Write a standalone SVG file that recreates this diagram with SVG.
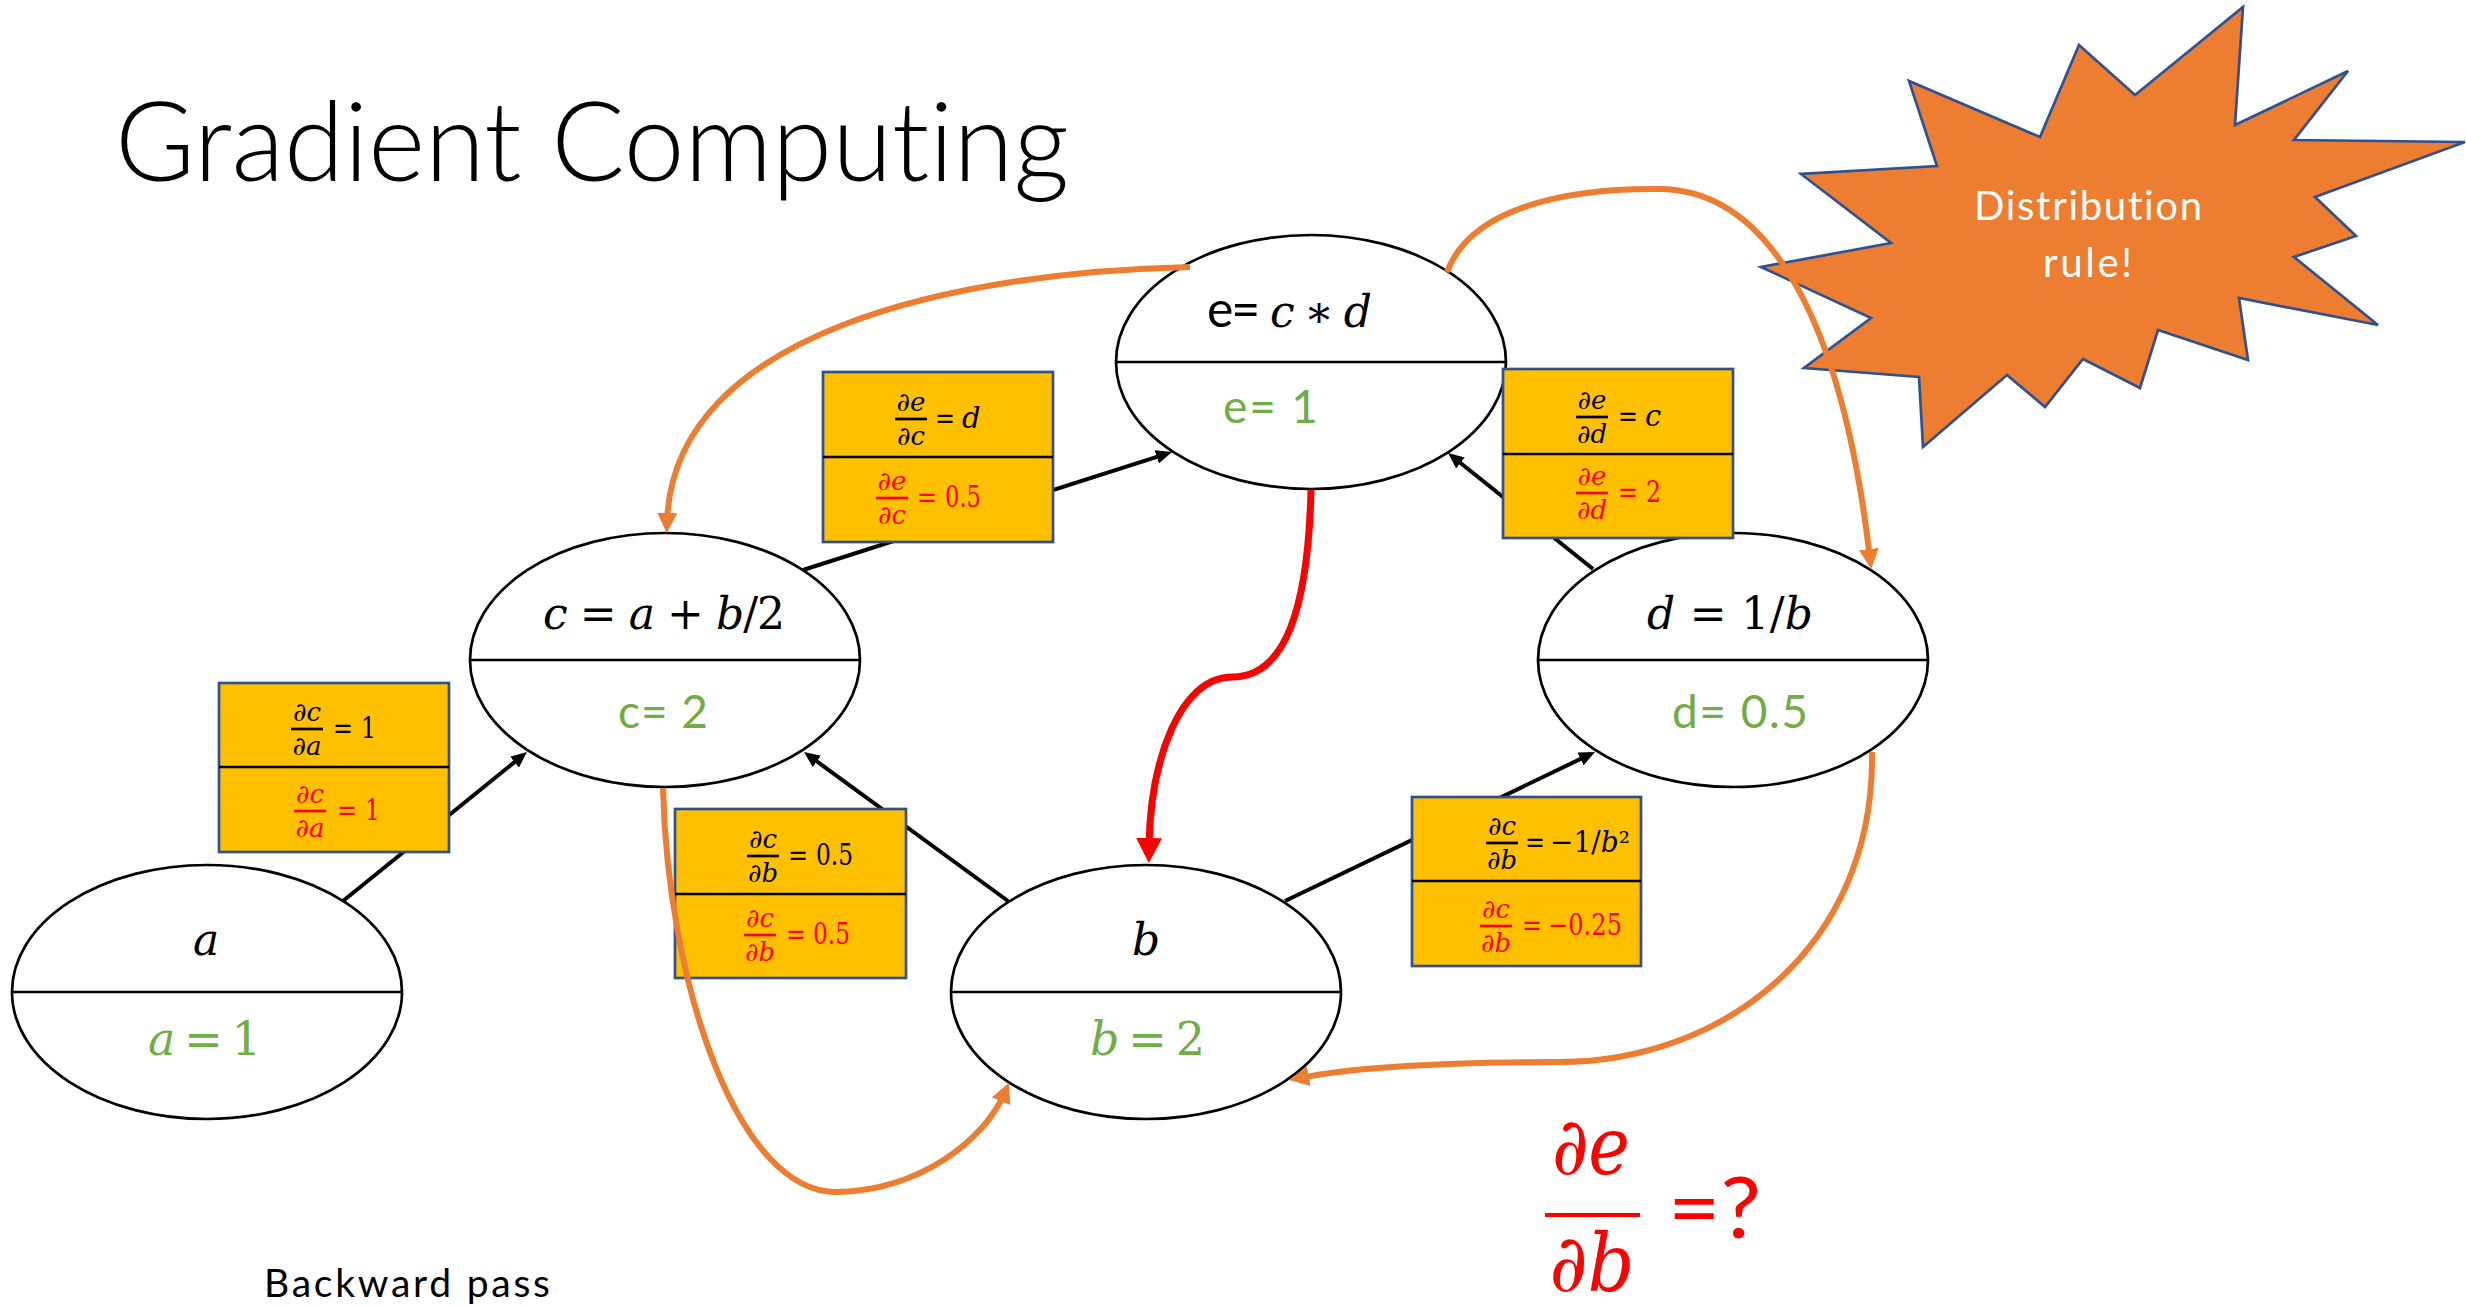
<svg xmlns="http://www.w3.org/2000/svg" width="2466" height="1307" viewBox="0 0 2466 1307">
  <style>
    .sans { font-family: Lato, "Open Sans", "Liberation Sans", sans-serif; font-variant-ligatures: none; }
    .m { font-family: "DejaVu Serif", "Liberation Serif", serif; }
    .i { font-style: italic; }
    .node { fill: #ffffff; stroke: #000000; stroke-width: 2.7; }
    .split { stroke: #000000; stroke-width: 2.7; }
    .lbl { font-size: 44px; fill: #000000; }
    .val { font-size: 46px; fill: #70AD47; }
    .box { fill: #FFC000; stroke: #2F528F; stroke-width: 2.7; }
    .fr { font-size: 26px; font-style: italic; }
    .eq { font-size: 29px; }
    .blk { fill: #000000; }
    .red { fill: #FF0000; }
    .barb { stroke: #000000; stroke-width: 2.7; }
    .barr { stroke: #FF0000; stroke-width: 2.7; }
    .edge { stroke: #000000; stroke-width: 4; fill: none; marker-end: url(#head-black); }
    .back { stroke: #ED7D31; stroke-width: 6; fill: none; marker-end: url(#head-orange); }
    .flow { stroke: #FF0000; stroke-width: 7; fill: none; marker-end: url(#head-red); }
  </style>
  <defs>
    <marker id="head-black" markerUnits="userSpaceOnUse" markerWidth="16" markerHeight="14" refX="10" refY="7" orient="auto">
      <path d="M0,0 L16,7 L0,14 z" fill="#000000"/>
    </marker>
    <marker id="head-orange" markerUnits="userSpaceOnUse" markerWidth="20" markerHeight="20" refX="10" refY="10" orient="auto">
      <path d="M0,0 L20,10 L0,20 z" fill="#ED7D31"/>
    </marker>
    <marker id="head-red" markerUnits="userSpaceOnUse" markerWidth="25" markerHeight="26" refX="10" refY="13" orient="auto">
      <path d="M0,0 L25,13 L0,26 z" fill="#FF0000"/>
    </marker>
  </defs>

  <rect x="0" y="0" width="2466" height="1307" fill="#ffffff"/>

  <!-- title -->
  <text class="sans" x="115" y="181" font-size="110" font-weight="300" textLength="954" lengthAdjust="spacingAndGlyphs" fill="#000000">Gradient Computing</text>

  <!-- forward edges -->
  <g id="connectors">
    <line class="edge" x1="343" y1="901" x2="522.3" y2="755.8"/>
    <line class="edge" x1="1008" y1="901" x2="808.8" y2="755.5"/>
    <line class="edge" x1="803" y1="570" x2="1166.3" y2="453.8"/>
    <line class="edge" x1="1593" y1="569" x2="1452.7" y2="456.7"/>
    <line class="edge" x1="1285" y1="901" x2="1589.6" y2="754.6"/>
  </g>

  <!-- nodes -->
  <g id="node-e">
    <ellipse class="node" cx="1311" cy="362" rx="195" ry="127"/>
    <line class="split" x1="1116" y1="362" x2="1506" y2="362"/>
    <text class="lbl" x="1207" y="327" textLength="165" lengthAdjust="spacing"><tspan class="sans" font-size="50">e=</tspan><tspan class="m"> </tspan><tspan class="m i">c</tspan><tspan class="m"> ∗ </tspan><tspan class="m i">d</tspan></text>
    <text class="val sans" x="1223" y="423" textLength="95" lengthAdjust="spacing">e= 1</text>
  </g>
  <g id="node-c">
    <ellipse class="node" cx="665" cy="660" rx="195" ry="127"/>
    <line class="split" x1="470" y1="660" x2="860" y2="660"/>
    <text class="lbl m" x="543" y="629" textLength="242" lengthAdjust="spacing"><tspan class="i">c</tspan> = <tspan class="i">a</tspan> + <tspan class="i">b</tspan>/2</text>
    <text class="val sans" x="618" y="728" textLength="90" lengthAdjust="spacing">c= 2</text>
  </g>
  <g id="node-d">
    <ellipse class="node" cx="1733" cy="660" rx="195" ry="127"/>
    <line class="split" x1="1538" y1="660" x2="1928" y2="660"/>
    <text class="lbl m" x="1647" y="629" textLength="166" lengthAdjust="spacing"><tspan class="i">d</tspan> = 1/<tspan class="i">b</tspan></text>
    <text class="val sans" x="1672" y="728" textLength="136" lengthAdjust="spacing">d= 0.5</text>
  </g>
  <g id="node-a">
    <ellipse class="node" cx="207" cy="992" rx="195" ry="127"/>
    <line class="split" x1="12" y1="992" x2="402" y2="992"/>
    <text class="lbl m i" x="206" y="955" text-anchor="middle">a</text>
    <text class="val m" x="148" y="1055" font-size="42" textLength="113" lengthAdjust="spacing"><tspan class="i">a</tspan> = 1</text>
  </g>
  <g id="node-b">
    <ellipse class="node" cx="1146" cy="992" rx="195" ry="127"/>
    <line class="split" x1="951" y1="992" x2="1341" y2="992"/>
    <text class="lbl m i" x="1146" y="955" text-anchor="middle">b</text>
    <text class="val m" x="1090" y="1055" font-size="42" textLength="115" lengthAdjust="spacing"><tspan class="i">b</tspan> = 2</text>
  </g>

  <!-- local and accumulated gradient labels on the edges -->
  <g id="grad-ec">
    <rect class="box" x="823" y="372" width="230" height="170"/>
    <line class="split" x1="823" y1="457" x2="1053" y2="457"/>
    <text class="m fr blk" x="911" y="411" text-anchor="middle">∂e</text>
    <line class="barb" x1="895" y1="419" x2="927" y2="419"/>
    <text class="m fr blk" x="911" y="445" text-anchor="middle">∂c</text>
    <text class="m eq blk" x="935" y="428" textLength="20" lengthAdjust="spacingAndGlyphs">=</text>
    <text class="m eq blk i" x="962" y="428">d</text>
    <text class="m fr red" x="892" y="490" text-anchor="middle">∂e</text>
    <line class="barr" x1="876" y1="498" x2="908" y2="498"/>
    <text class="m fr red" x="892" y="524" text-anchor="middle">∂c</text>
    <text class="m eq red" x="917" y="507" textLength="20" lengthAdjust="spacingAndGlyphs">=</text>
    <text class="m eq red" x="945" y="507" textLength="36" lengthAdjust="spacingAndGlyphs">0.5</text>
  </g>
  <g id="grad-ed">
    <rect class="box" x="1503" y="369" width="230" height="169"/>
    <line class="split" x1="1503" y1="454" x2="1733" y2="454"/>
    <text class="m fr blk" x="1592" y="409" text-anchor="middle">∂e</text>
    <line class="barb" x1="1576" y1="417" x2="1608" y2="417"/>
    <text class="m fr blk" x="1592" y="443" text-anchor="middle">∂d</text>
    <text class="m eq blk" x="1618" y="426" textLength="20" lengthAdjust="spacingAndGlyphs">=</text>
    <text class="m eq blk i" x="1645" y="426">c</text>
    <text class="m fr red" x="1592" y="485" text-anchor="middle">∂e</text>
    <line class="barr" x1="1576" y1="493" x2="1608" y2="493"/>
    <text class="m fr red" x="1592" y="519" text-anchor="middle">∂d</text>
    <text class="m eq red" x="1618" y="502" textLength="20" lengthAdjust="spacingAndGlyphs">=</text>
    <text class="m eq red" x="1646" y="502" textLength="15" lengthAdjust="spacingAndGlyphs">2</text>
  </g>
  <g id="grad-ca">
    <rect class="box" x="219" y="683" width="230" height="169"/>
    <line class="split" x1="219" y1="767" x2="449" y2="767"/>
    <text class="m fr blk" x="307" y="721" text-anchor="middle">∂c</text>
    <line class="barb" x1="291" y1="729" x2="323" y2="729"/>
    <text class="m fr blk" x="307" y="755" text-anchor="middle">∂a</text>
    <text class="m eq blk" x="333" y="738" textLength="20" lengthAdjust="spacingAndGlyphs">=</text>
    <text class="m eq blk" x="361" y="738" textLength="15" lengthAdjust="spacingAndGlyphs">1</text>
    <text class="m fr red" x="310" y="803" text-anchor="middle">∂c</text>
    <line class="barr" x1="294" y1="811" x2="326" y2="811"/>
    <text class="m fr red" x="310" y="837" text-anchor="middle">∂a</text>
    <text class="m eq red" x="337" y="820" textLength="20" lengthAdjust="spacingAndGlyphs">=</text>
    <text class="m eq red" x="365" y="820" textLength="15" lengthAdjust="spacingAndGlyphs">1</text>
  </g>
  <g id="grad-cb">
    <rect class="box" x="675" y="809" width="231" height="169"/>
    <line class="split" x1="675" y1="894" x2="906" y2="894"/>
    <text class="m fr blk" x="763" y="848" text-anchor="middle">∂c</text>
    <line class="barb" x1="747" y1="856" x2="779" y2="856"/>
    <text class="m fr blk" x="763" y="882" text-anchor="middle">∂b</text>
    <text class="m eq blk" x="788" y="865" textLength="20" lengthAdjust="spacingAndGlyphs">=</text>
    <text class="m eq blk" x="816" y="865" textLength="37" lengthAdjust="spacingAndGlyphs">0.5</text>
    <text class="m fr red" x="760" y="927" text-anchor="middle">∂c</text>
    <line class="barr" x1="744" y1="935" x2="776" y2="935"/>
    <text class="m fr red" x="760" y="961" text-anchor="middle">∂b</text>
    <text class="m eq red" x="786" y="944" textLength="20" lengthAdjust="spacingAndGlyphs">=</text>
    <text class="m eq red" x="813" y="944" textLength="37" lengthAdjust="spacingAndGlyphs">0.5</text>
  </g>
  <g id="grad-db">
    <rect class="box" x="1412" y="797" width="229" height="169"/>
    <line class="split" x1="1412" y1="881" x2="1641" y2="881"/>
    <text class="m fr blk" x="1502" y="835" text-anchor="middle">∂c</text>
    <line class="barb" x1="1486" y1="843" x2="1518" y2="843"/>
    <text class="m fr blk" x="1502" y="869" text-anchor="middle">∂b</text>
    <text class="m eq blk" x="1525" y="852" textLength="20" lengthAdjust="spacingAndGlyphs">=</text>
    <text class="m eq blk" x="1550" y="852" textLength="80" lengthAdjust="spacingAndGlyphs">−1/<tspan class="i">b</tspan>²</text>
    <text class="m fr red" x="1496" y="918" text-anchor="middle">∂c</text>
    <line class="barr" x1="1480" y1="926" x2="1512" y2="926"/>
    <text class="m fr red" x="1496" y="952" text-anchor="middle">∂b</text>
    <text class="m eq red" x="1522" y="935" textLength="20" lengthAdjust="spacingAndGlyphs">=</text>
    <text class="m eq red" x="1548" y="935" textLength="74" lengthAdjust="spacingAndGlyphs">−0.25</text>
  </g>

  <!-- callout burst -->
  <g id="callout">
    <polygon points="2243,7 2235,125 2348,71 2294,140 2465,142 2315,197 2356,236 2294,257 2378,325 2239,298 2248,360 2158,330 2140,388 2083,359 2045,407 2007,375 1923,447 1919,377 1804,368 1871,318 1761,267 1891,243 1801,174 1937,166 1909,81 2040,137 2079,45 2135,95" fill="#ED7D31" stroke="#2F528F" stroke-width="2.7" stroke-linejoin="miter"/>
    <text class="sans" x="1974" y="220" font-size="40" fill="#ffffff" textLength="228" lengthAdjust="spacing">Distribution</text>
    <text class="sans" x="2043" y="277" font-size="40" fill="#ffffff" textLength="89" lengthAdjust="spacing">rule!</text>
  </g>

  <!-- backward flow -->
  <g id="backward-connectors">
    <path class="back" d="M1190,267 C960,272 672,330 667,523"/>
    <path class="back" d="M1447,272 C1470,210 1560,188 1660,189 C1760,190 1840,300 1870,559"/>
    <path class="back" d="M663,788 C668,990 740,1195 838,1192 C920,1190 985,1140 1005,1092"/>
    <path class="back" d="M1872,752 C1875,950 1720,1062 1560,1062 C1450,1062 1360,1066 1299,1078"/>
    <path class="flow" d="M1311,490 C1308,610 1285,677 1232,677 C1180,677 1150,760 1149,848"/>
  </g>

  <!-- question -->
  <g id="question">
    <text class="m i red" x="1591" y="1174" font-size="80" text-anchor="middle" textLength="78" lengthAdjust="spacingAndGlyphs">∂e</text>
    <line x1="1545" y1="1215" x2="1640" y2="1215" stroke="#FF0000" stroke-width="4"/>
    <text class="m i red" x="1592" y="1291" font-size="80" text-anchor="middle" textLength="85" lengthAdjust="spacingAndGlyphs">∂b</text>
    <text class="sans red" x="1668" y="1238" font-size="86" textLength="93" lengthAdjust="spacingAndGlyphs">=?</text>
  </g>

  <text class="sans" x="264" y="1297" font-size="39" fill="#000000" textLength="286" lengthAdjust="spacing">Backward pass</text>
</svg>
